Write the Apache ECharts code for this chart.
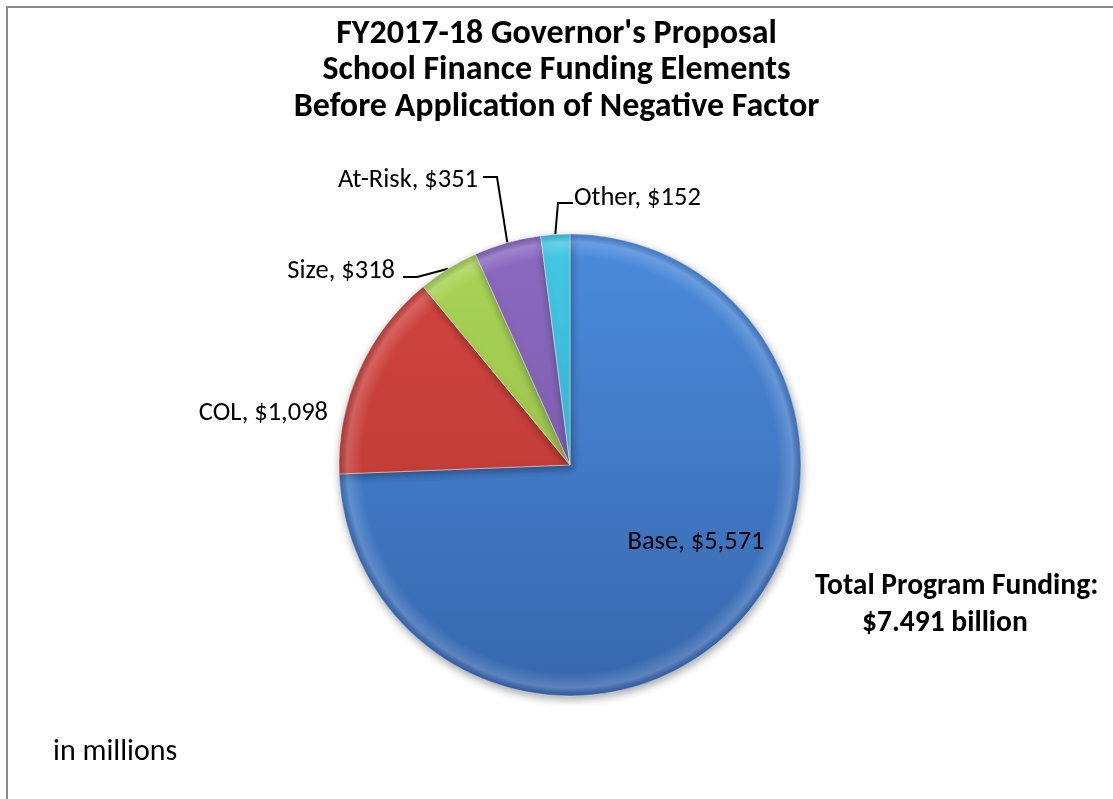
<!DOCTYPE html>
<html>
<head>
<meta charset="utf-8">
<script src="https://cdn.jsdelivr.net/npm/echarts@6/dist/echarts.min.js"></script>
<style>html,body{margin:0;padding:0;background:#fff}#c{width:1113px;height:799px}</style>
</head>
<body>
<div id="c"></div>
<script>
// ---- data ----
const categories = ['Base', 'COL', 'Size', 'At-Risk', 'Other'];
const values = [5571, 1098, 318, 351, 152];
const titleLines = ["FY2017-18 Governor's Proposal", 'School Finance Funding Elements', 'Before Application of Negative Factor'];
const totalLines = ['Total Program Funding:', '$7.491 billion'];
const unitNote = 'in millions';

// ---- style ----
const FONT = 'Carlito, Calibri, Lato, sans-serif';
const CX = 570, CY = 465, R = 231;
const palette = [
  ['#4b8bdc', '#3767ad'],
  ['#d4453f', '#b23733'],
  ['#aad556', '#8db348'],
  ['#8c69c0', '#7155a2'],
  ['#43c8e3', '#2ea6c6']
];
// label anchor placement (layout only)
const labelPlace = [
  {x: 696, y: 542, align: 'center'},
  {x: 328, y: 413, align: 'right'},
  {x: 395, y: 271, align: 'right', end: [8, 6], elbow: [22, 6]},
  {x: 478, y: 180, align: 'right', end: [5, -3], elbow: [19, -3]},
  {x: 574, y: 198, align: 'left', end: [-1, 5], elbow: [-16, 5]}
];

const chart = echarts.init(document.getElementById('c'), null, {renderer: 'canvas'});

function fmt(v) { return '$' + v.toLocaleString('en-US'); }

const seriesData = categories.map((name, i) => ({
  name, value: values[i],
  itemStyle: {
    color: {type: 'linear', x: CX, y: CY - R, x2: CX, y2: CY + R, global: true,
      colorStops: [{offset: 0, color: palette[i][0]}, {offset: 1, color: palette[i][1]}]}
  },
  labelLine: {show: i >= 2}
}));

chart.setOption({
  animation: false,
  backgroundColor: '#ffffff',
  title: {
    text: titleLines.join('\n'),
    left: 'center',
    top: 11,
    textStyle: {fontFamily: FONT, fontSize: 34, fontWeight: 'bold', color: '#000', lineHeight: 36.5}
  },
  graphic: [
    {type: 'rect', shape: {x: 7, y: 7, width: 1300, height: 1000}, style: {fill: 'none', stroke: '#8a8a8a', lineWidth: 2}, silent: true},
    {type: 'text', x: 815, y: 587, style: {text: totalLines[0], font: 'bold 29.5px ' + FONT, fill: '#000', verticalAlign: 'middle'}},
    {type: 'text', x: 862, y: 624, style: {text: totalLines[1], font: 'bold 29.5px ' + FONT, fill: '#000', verticalAlign: 'middle'}},
    {type: 'text', x: 53, y: 752, style: {text: unitNote, font: '30px ' + FONT, fill: '#000', verticalAlign: 'middle'}}
  ],
  series: [{
    type: 'pie',
    center: [CX, CY],
    radius: R,
    startAngle: 90,
    clockwise: true,
    avoidLabelOverlap: false,
    data: seriesData,
    itemStyle: {
      borderColor: 'rgba(255,255,255,0.45)', borderWidth: 1,
      shadowBlur: 8, shadowColor: 'rgba(0,0,0,0.35)', shadowOffsetY: 3, shadowOffsetX: 1
    },
    label: {
      show: true,
      position: 'outside',
      formatter: p => p.name + ', ' + fmt(p.value),
      fontFamily: FONT, fontSize: 26.5, color: '#000'
    },
    labelLine: {show: true, length: 20, length2: 15, lineStyle: {color: '#000', width: 2}},
    labelLayout: function (params) {
      const pl = labelPlace[params.dataIndex];
      const out = {x: pl.x, y: pl.y, align: pl.align, verticalAlign: 'middle'};
      if (pl.end && params.labelLinePoints) {
        const p0 = params.labelLinePoints[0];
        out.labelLinePoints = [
          p0,
          [pl.x + pl.elbow[0], pl.y + pl.elbow[1]],
          [pl.x + pl.end[0], pl.y + pl.end[1]]
        ];
      }
      return out;
    }
  }, {
    type: 'pie',
    center: [CX, CY],
    radius: R,
    startAngle: 90,
    silent: true,
    label: {show: false},
    labelLine: {show: false},
    data: values.map((v, i) => ({value: v, name: categories[i]})),
    itemStyle: {
      color: {type: 'radial', x: CX, y: CY, r: R, global: true,
        colorStops: [
          {offset: 0, color: 'rgba(255,255,255,0)'},
          {offset: 0.9, color: 'rgba(255,255,255,0)'},
          {offset: 0.965, color: 'rgba(255,255,255,0.18)'},
          {offset: 1, color: 'rgba(0,0,40,0.12)'}
        ]},
      borderWidth: 0
    }
  }]
});
</script>
</body>
</html>
